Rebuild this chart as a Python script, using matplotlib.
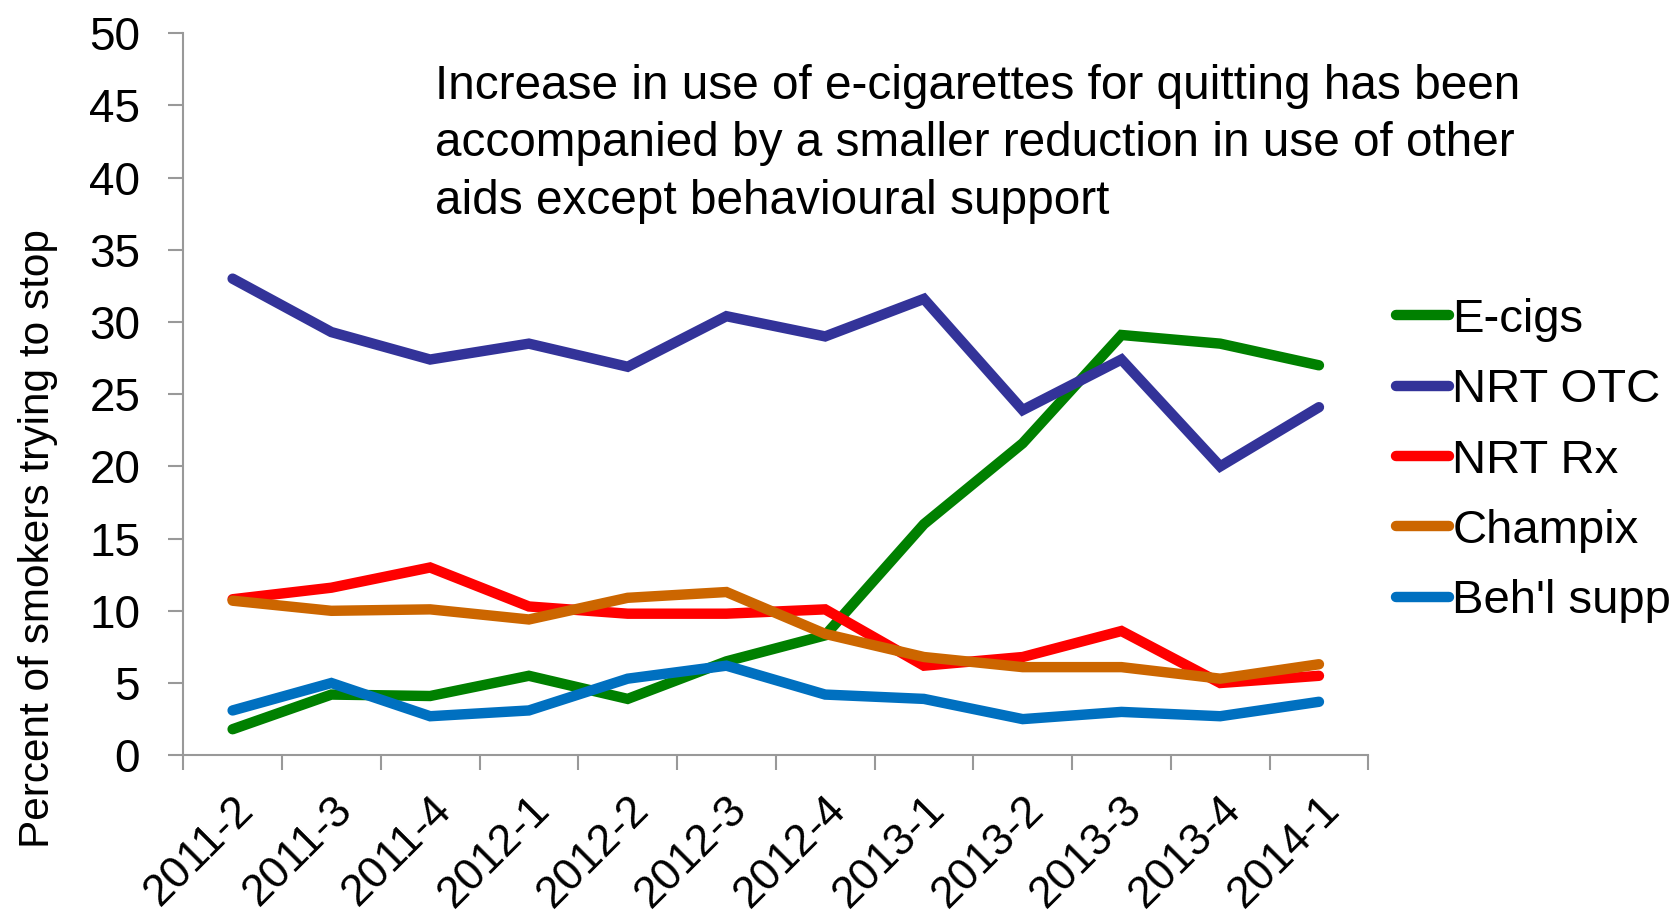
import numpy as np
import matplotlib.pyplot as plt

plt.rcParams['font.family'] = ['Liberation Sans', 'DejaVu Sans']

quarters = ["2011-2", "2011-3", "2011-4", "2012-1", "2012-2", "2012-3",
            "2012-4", "2013-1", "2013-2", "2013-3", "2013-4", "2014-1"]

ecigs = [1.8, 4.2, 4.1, 5.5, 3.9, 6.5, 8.3, 16.0, 21.6, 29.1, 28.5, 27.0]
nrt_otc = [33.0, 29.3, 27.4, 28.5, 26.9, 30.4, 29.0, 31.6, 23.9, 27.4, 20.0, 24.1]
nrt_rx = [10.8, 11.6, 13.0, 10.3, 9.8, 9.8, 10.1, 6.2, 6.8, 8.6, 5.0, 5.5]
champix = [10.7, 10.0, 10.1, 9.4, 10.9, 11.3, 8.4, 6.8, 6.1, 6.1, 5.3, 6.3]
behl_supp = [3.1, 5.0, 2.7, 3.1, 5.3, 6.2, 4.2, 3.9, 2.5, 3.0, 2.7, 3.7]

series = [("E-cigs", ecigs, "#008000"),
          ("NRT OTC", nrt_otc, "#333399"),
          ("NRT Rx", nrt_rx, "#ff0000"),
          ("Champix", champix, "#cc6600"),
          ("Beh'l supp", behl_supp, "#0070c0")]

fig = plt.figure(figsize=(16.81, 9.21), dpi=100)
ax = fig.add_axes([0.109, 0.180, 0.705, 0.784])

x = np.arange(len(quarters))
for name, vals, col in series:
    ax.plot(x, vals, color=col, lw=7.5, label=name, solid_capstyle='round',
            solid_joinstyle='miter')

ax.set_xlim(-0.5, len(quarters) - 0.5)
ax.set_ylim(0, 50)
ax.set_yticks(np.arange(0, 51, 5))
ax.set_xticks(x)
ax.set_xticks(np.arange(-0.5, len(quarters), 1), minor=True)
ax.set_xticklabels(quarters, rotation=45, ha='right', rotation_mode='anchor')

grey = "#999999"
for s in ["top", "right"]:
    ax.spines[s].set_visible(False)
for s in ["left", "bottom"]:
    ax.spines[s].set_color(grey)
    ax.spines[s].set_linewidth(1.5)
ax.tick_params(axis='y', direction='out', length=11, width=1.5, color=grey,
               labelsize=33, pad=20)
ax.tick_params(axis='x', which='major', length=0, labelsize=32, pad=24)
ax.tick_params(axis='x', which='minor', direction='out', length=11, width=1.5,
               color=grey)

ax.set_ylabel("Percent of smokers trying to stop", fontsize=30.5)
ax.yaxis.set_label_coords(-0.106, 0.30)

fig.text(0.259, 0.931, "Increase in use of e-cigarettes for quitting has been\n"
         "accompanied by a smaller reduction in use of other\n"
         "aids except behavioural support",
         fontsize=34.4, va='top', ha='left', linespacing=1.37)

ax.legend(loc='center left', bbox_to_anchor=(0.805, 0.500),
          bbox_transform=fig.transFigure, frameon=False, fontsize=34,
          handlelength=1.12, handletextpad=0.08, labelspacing=0.56)

fig.savefig("out.png", dpi=100)
